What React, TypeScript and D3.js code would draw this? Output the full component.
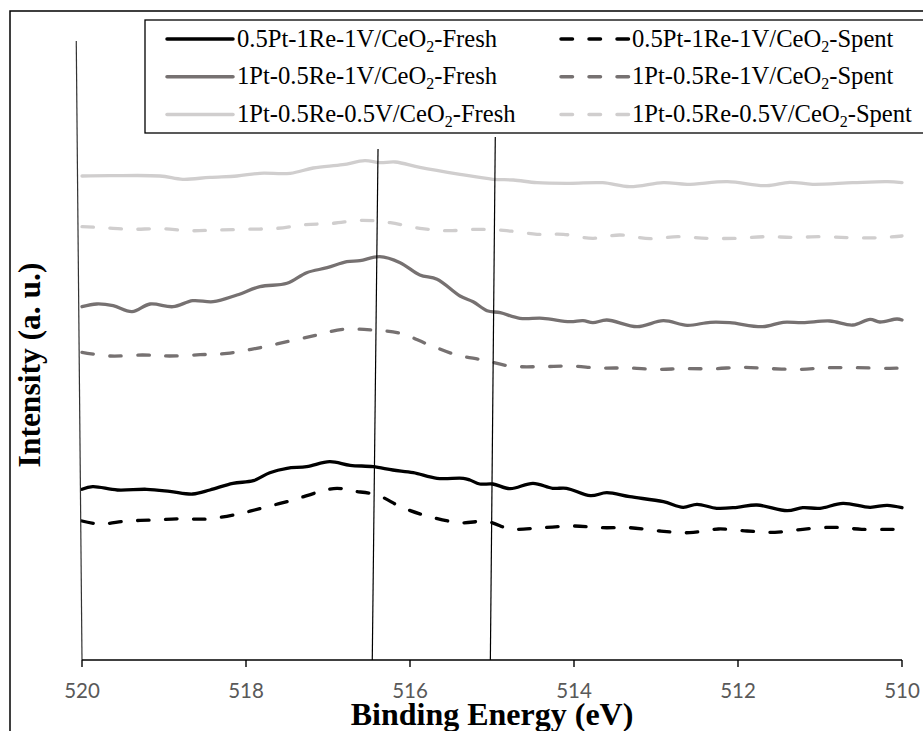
import React from "react";
import * as d3 from "d3";

// ---- Data (binding energy in eV, intensity in arbitrary units) ----
const energyPtRe1V_Fresh = [520.0, 519.87, 519.57, 519.21, 518.93, 518.65, 518.44, 518.16, 517.91, 517.71, 517.5, 517.26, 516.98, 516.73, 516.45, 516.21, 515.96, 515.67, 515.35, 515.27, 515.15, 514.99, 514.78, 514.5, 514.26, 514.09, 513.8, 513.6, 513.32, 512.91, 512.67, 512.5, 512.26, 512.01, 511.77, 511.4, 511.21, 511.0, 510.72, 510.39, 510.18, 510.0];
const intensityPtRe1V_Fresh = [170.7, 173.3, 170, 170.7, 168.7, 166, 170, 176.7, 179.3, 187.3, 191.7, 193.3, 198.3, 194.7, 193.3, 190, 187.3, 181.7, 181.7, 180, 176, 176, 171.3, 176.7, 171.7, 171.7, 164.3, 167.3, 163.3, 158.3, 152.7, 155.7, 151.7, 152.7, 155, 149.3, 152.3, 151.7, 156.7, 152.7, 154.7, 152.3];

const energyPtRe1V_Spent = [520.0, 519.78, 519.45, 519.13, 518.8, 518.48, 518.11, 517.79, 517.43, 517.1, 516.89, 516.7, 516.4, 516.09, 515.76, 515.39, 515.06, 514.82, 514.74, 514.38, 514.02, 513.65, 513.32, 512.95, 512.59, 512.24, 511.89, 511.55, 511.21, 510.84, 510.49, 510.12, 510.0];
const intensityPtRe1V_Spent = [139, 136, 139, 140, 141.3, 141, 145.7, 152.3, 160, 168.3, 171.7, 169, 165, 152.3, 143.3, 137.3, 138.5, 131.7, 130.7, 132.3, 134, 132.3, 132.3, 129, 127.3, 131, 129, 127.7, 130.7, 132.7, 130.7, 130.7, 130.7];

const energyRe1V_Fresh = [520.0, 519.82, 519.62, 519.39, 519.17, 518.89, 518.65, 518.4, 518.11, 517.83, 517.5, 517.26, 517.01, 516.77, 516.61, 516.37, 516.12, 515.88, 515.67, 515.39, 515.23, 515.06, 514.9, 514.66, 514.38, 514.05, 513.89, 513.77, 513.6, 513.23, 512.91, 512.62, 512.34, 512.1, 511.7, 511.45, 511.21, 510.88, 510.6, 510.39, 510.27, 510.06, 510.0];
const intensityRe1V_Fresh = [353.3, 356, 354.3, 348.3, 356, 353.3, 359.3, 358.3, 365, 373.3, 376.7, 387.3, 392.3, 398.3, 399.3, 403.3, 397.3, 385, 380.7, 364, 358.3, 349.3, 347.3, 341.7, 341.7, 338.3, 339.3, 337.3, 340, 333.3, 339.3, 334.7, 337.7, 337.3, 333.3, 337.7, 337.3, 339, 335, 340.7, 338, 341, 340];

const energyRe1V_Spent = [520.0, 519.66, 519.26, 518.93, 518.56, 518.23, 517.87, 517.5, 517.13, 516.82, 516.45, 516.12, 515.79, 515.43, 515.11, 514.78, 514.41, 514.05, 513.68, 513.34, 512.99, 512.67, 512.3, 511.94, 511.59, 511.24, 510.88, 510.55, 510.15, 510.0];
const intensityRe1V_Spent = [307.7, 304, 305, 304, 305.3, 306.7, 311.7, 318.3, 325, 330.7, 330, 326.7, 316, 305, 300, 294, 293.3, 294, 292, 292, 290.7, 291.3, 291.3, 292.7, 291.3, 290.7, 292.3, 292.3, 291.7, 292];

const energyRe05V_Fresh = [520.0, 519.66, 519.05, 518.77, 518.44, 518.11, 517.83, 517.46, 517.18, 516.82, 516.55, 516.37, 516.18, 515.88, 515.39, 514.99, 514.74, 514.45, 514.05, 513.65, 513.32, 512.91, 512.62, 512.13, 511.65, 511.37, 511.09, 510.6, 510.18, 510.0];
const intensityRe05V_Fresh = [484, 484.3, 484, 480.7, 482.7, 484, 486.7, 486.7, 492, 495.3, 499.3, 497.3, 498, 492.7, 485.7, 480.7, 480, 477.3, 476.7, 477.3, 473.3, 477.3, 475.7, 478.3, 474.3, 477.7, 475.7, 477.3, 478.3, 477.3];

const energyRe05V_Spent = [520.0, 519.74, 519.41, 519.05, 518.68, 518.35, 517.99, 517.62, 517.28, 516.94, 516.59, 516.24, 515.88, 515.55, 515.18, 514.82, 514.45, 514.13, 513.77, 513.44, 513.07, 512.73, 512.38, 512.01, 511.67, 511.33, 510.96, 510.6, 510.27, 510.0];
const intensityRe05V_Spent = [433.3, 432.3, 430.7, 431.3, 429.3, 430, 430.7, 431.7, 435.3, 436.7, 439.7, 437.3, 431.7, 429.3, 430.7, 429.3, 425.7, 425.7, 421.7, 425, 421.3, 423.3, 421.7, 421.7, 423.3, 422.7, 423.3, 422.3, 422.3, 424];

const seriesNames = [
  "0.5Pt-1Re-1V/CeO2-Fresh",
  "1Pt-0.5Re-1V/CeO2-Fresh",
  "1Pt-0.5Re-0.5V/CeO2-Fresh",
  "0.5Pt-1Re-1V/CeO2-Spent",
  "1Pt-0.5Re-1V/CeO2-Spent",
  "1Pt-0.5Re-0.5V/CeO2-Spent",
];

const xTicks = [520, 518, 516, 514, 512, 510];

// Reference (annotation) lines: energy at bottom, energy at top, top intensity
const refLineBottomE = [520.0, 516.46, 515.02];
const refLineTopE = [520.07, 516.39, 514.96];
const refLineTopI = [619, 511, 523];

const COLORS = { black: "#000000", dark: "#767171", light: "#D0CECE" };

export default function App() {
  const W = 923;
  const H = 731;
  const x = d3.scaleLinear().domain([520, 510]).range([82, 902]);
  const y = d3.scaleLinear().domain([0, 620]).range([660, 40]);

  const series = [
    { name: seriesNames[0], e: energyPtRe1V_Fresh, v: intensityPtRe1V_Fresh, color: COLORS.black, dashed: false },
    { name: seriesNames[1], e: energyRe1V_Fresh, v: intensityRe1V_Fresh, color: COLORS.dark, dashed: false },
    { name: seriesNames[2], e: energyRe05V_Fresh, v: intensityRe05V_Fresh, color: COLORS.light, dashed: false },
    { name: seriesNames[3], e: energyPtRe1V_Spent, v: intensityPtRe1V_Spent, color: COLORS.black, dashed: true },
    { name: seriesNames[4], e: energyRe1V_Spent, v: intensityRe1V_Spent, color: COLORS.dark, dashed: true },
    { name: seriesNames[5], e: energyRe05V_Spent, v: intensityRe05V_Spent, color: COLORS.light, dashed: true },
  ];

  const line = d3
    .line<[number, number]>()
    .x((d) => x(d[0]))
    .y((d) => y(d[1]))
    .curve(d3.curveCatmullRom.alpha(0.5));

  const dash = "11.5,16.5";
  const serif = "Liberation Serif";

  const renderLabel = (name: string) => {
    const [pre, post] = name.split("CeO2");
    return (
      <>
        {pre}CeO
        <tspan fontSize={16} dy={5}>2</tspan>
        <tspan dy={-5}>{post}</tspan>
      </>
    );
  };

  const legendRows = [39, 76.7, 114.5];
  const legendCols = [
    { x0: 167, x1: 233, tx: 237 },
    { x0: 561, x1: 630, tx: 632 },
  ];

  return (
    <svg
      width={W}
      height={H}
      style={{ position: "absolute", left: 0, top: 0, display: "block", background: "#fff" }}
    >
      <rect x={0} y={0} width={W} height={H} fill="#fff" />
      {/* outer chart frame */}
      <rect x={10} y={11} width={W + 20} height={H + 20} fill="none" stroke="#000" strokeWidth={1.5} />

      {/* legend */}
      <rect x={145} y={20} width={W} height={113} fill="#fff" stroke="#000" strokeWidth={1.3} />
      {series.map((s, i) => {
        const col = legendCols[i < 3 ? 0 : 1];
        const ry = legendRows[i % 3];
        return (
          <g key={"lg" + i}>
            <line
              x1={col.x0}
              x2={col.x1}
              y1={ry}
              y2={ry}
              stroke={s.color}
              strokeWidth={3.5}
              strokeDasharray={s.dashed ? dash : undefined}
              strokeLinecap="round"
            />
            <text x={col.tx} y={ry + 7.7} fontFamily={serif} fontSize={24.6} fill="#000">
              {renderLabel(s.name)}
            </text>
          </g>
        );
      })}

      {/* data lines */}
      {series.map((s, i) => (
        <path
          key={"s" + i}
          d={line(s.e.map((e, k) => [e, s.v[k]] as [number, number])) || ""}
          fill="none"
          stroke={s.color}
          strokeWidth={3.3}
          strokeDasharray={s.dashed ? dash : undefined}
          strokeLinecap="round"
          strokeLinejoin="round"
        />
      ))}

      {/* reference/axis lines */}
      {refLineBottomE.map((eb, i) => (
        <line
          key={"ref" + i}
          x1={x(eb)}
          y1={y(0)}
          x2={x(refLineTopE[i])}
          y2={y(refLineTopI[i])}
          stroke={i === 0 ? "#333" : "#000"}
          strokeWidth={1.2}
        />
      ))}

      {/* x axis */}
      <line x1={x(520)} x2={x(510)} y1={y(0)} y2={y(0)} stroke="#000" strokeWidth={1.4} />
      {xTicks.map((t) => (
        <g key={"t" + t}>
          <line x1={x(t)} x2={x(t)} y1={y(0)} y2={y(0) + 7} stroke="#000" strokeWidth={1.4} />
          <text
            x={x(t)}
            y={698}
            textAnchor="middle"
            fontFamily="Lato"
            fontSize={20.5}
            fill="#595959"
          >
            {t}
          </text>
        </g>
      ))}

      {/* axis titles */}
      <text
        x={492}
        y={725}
        textAnchor="middle"
        fontFamily={serif}
        fontWeight="bold"
        fontSize={32}
        fill="#000"
      >
        Binding Energy (eV)
      </text>
      <text
        transform={`translate(40,365) rotate(-90)`}
        textAnchor="middle"
        fontFamily={serif}
        fontWeight="bold"
        fontSize={31.5}
        fill="#000"
      >
        Intensity (a. u.)
      </text>
    </svg>
  );
}
